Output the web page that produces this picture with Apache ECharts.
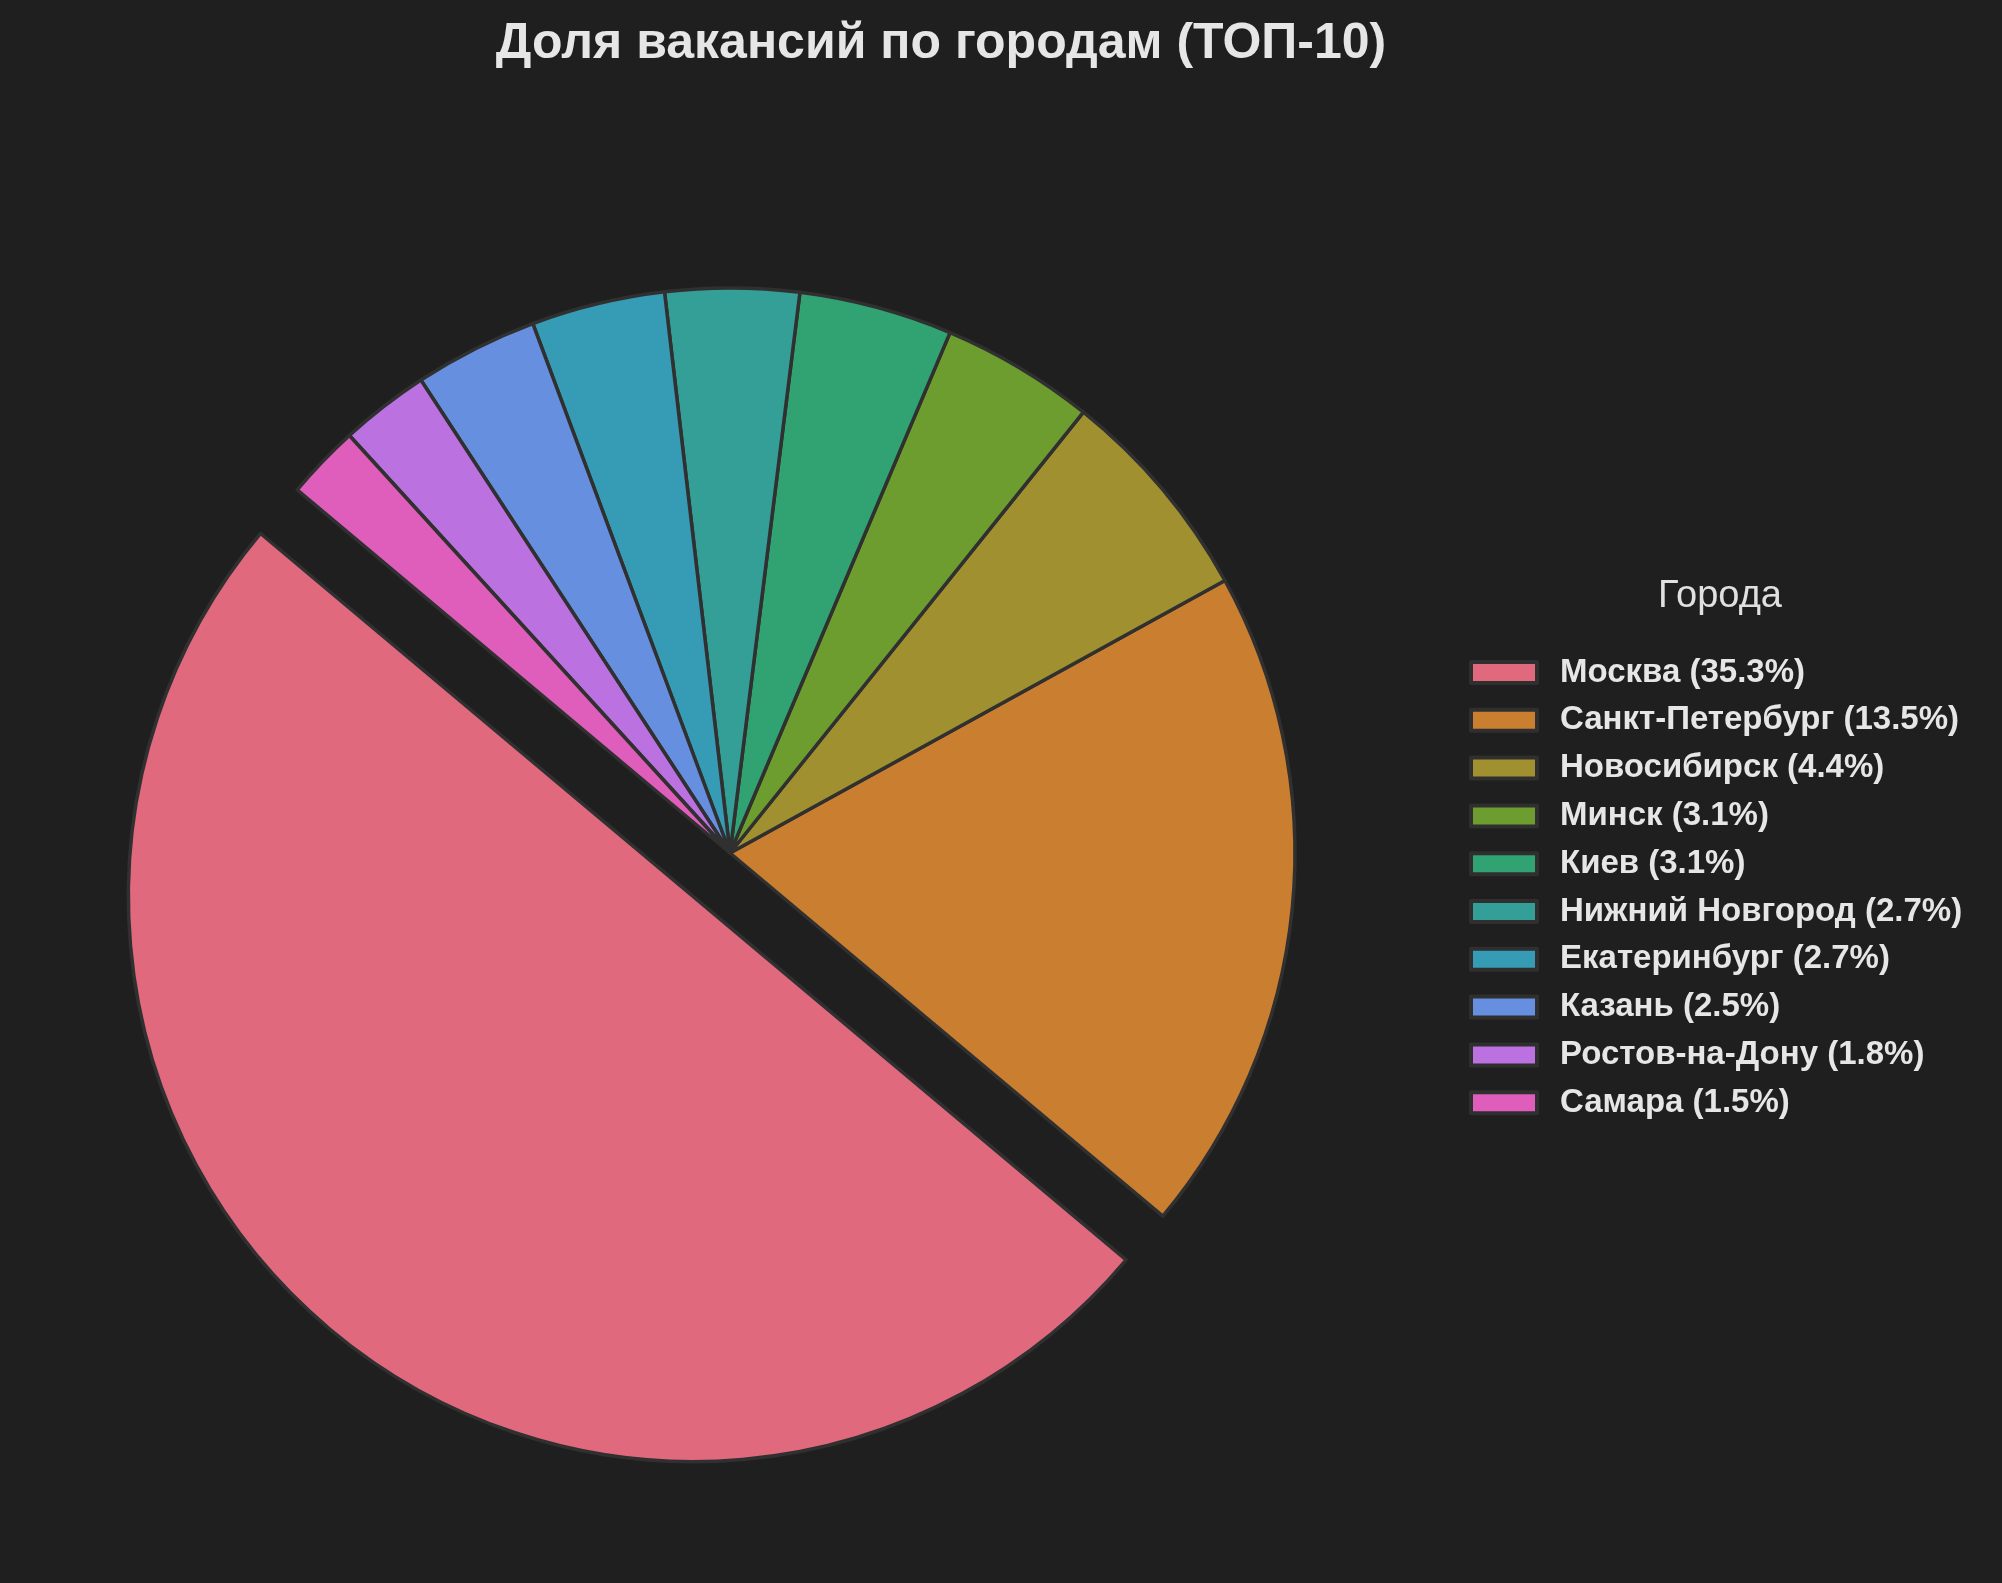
<!DOCTYPE html>
<html>
<head>
<meta charset="utf-8">
<script src="https://cdn.jsdelivr.net/npm/echarts@6/dist/echarts.min.js"></script>
<style>
html,body{margin:0;padding:0;background:#1f1f1f;}
#chart{width:2002px;height:1583px;}
</style>
</head>
<body>
<div id="chart"></div>
<script>
const cities = ['Москва','Санкт-Петербург','Новосибирск','Минск','Киев','Нижний Новгород','Екатеринбург','Казань','Ростов-на-Дону','Самара'];
const shares = [35.3,13.5,4.4,3.1,3.1,2.7,2.7,2.5,1.8,1.5];
const colors = ['#e1697e','#c97e30','#a0902f','#6e9d2f','#31a271','#349f97','#369bb4','#668fdf','#bb71df','#e05ebb'];
const titleText = 'Доля вакансий по городам (ТОП-10)';
const legendTitle = 'Города';

const chart = echarts.init(document.getElementById('chart'), null, {renderer:'canvas'});
const data = cities.map((c,i)=>({
  name: c,
  value: shares[i],
  selected: i === 0,
  itemStyle: {color: colors[i]}
}));
const shareMap = {};
cities.forEach((c,i)=>{shareMap[c]=shares[i];});

chart.setOption({
  backgroundColor: '#1f1f1f',
  animation: false,
  title: [
    {
      text: titleText,
      left: 941,
      top: 19,
      textAlign: 'center',
      padding: 0,
      textStyle: {color:'#e6e6e6', fontSize: 50, fontWeight:'bold', fontFamily:'Liberation Sans'}
    },
    {
      text: legendTitle,
      left: 1720,
      top: 578,
      textAlign: 'center',
      padding: 0,
      textStyle: {color:'#e0e0e0', fontSize: 38, fontWeight:'normal', fontFamily:'Liberation Sans'}
    }
  ],
  legend: {
    orient: 'vertical',
    left: 1469,
    top: 656,
    padding: 0,
    itemWidth: 66,
    itemHeight: 21,
    itemGap: 14.8,
    icon: 'rect',
    selectedMode: false,
    data: cities,
    itemStyle: {borderColor:'#2f2f2f', borderWidth: 4},
    formatter: function(n){ return n + ' (' + shareMap[n].toFixed(1) + '%)'; },
    textStyle: {color:'#e6e6e6', fontSize: 33, fontWeight:'bold', fontFamily:'Liberation Sans', lineHeight: 33, padding:[0,0,0,18]}
  },
  series: [{
    type: 'pie',
    center: [730, 853],
    radius: 565,
    startAngle: 140,
    clockwise: false,
    selectedMode: 'single',
    selectedOffset: 57,
    label: {show:false},
    labelLine: {show:false},
    emphasis: {disabled: true},
    itemStyle: {borderColor:'#303030', borderWidth: 3.5},
    select: {itemStyle: {borderColor:'#303030', borderWidth: 3.5}},
    data: data
  }]
});
</script>
</body>
</html>
